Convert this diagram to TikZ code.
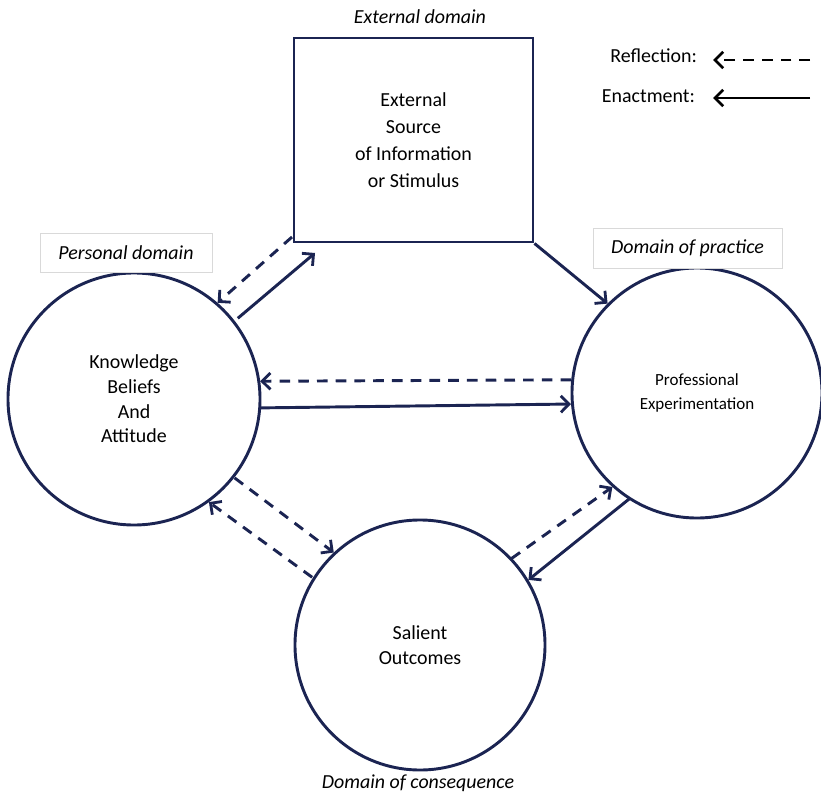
\documentclass[tikz,border=0pt]{standalone}
\usepackage{fontspec}
\setmainfont{Carlito}
\usetikzlibrary{arrows.meta}
\definecolor{navy}{HTML}{1B2452}
\tikzset{
  conn/.style={draw=navy, line width=2.5pt, -{Straight Barb[length=7pt,width=14pt,line width=2.4pt]}},
  refl/.style={conn, dash pattern=on 9pt off 7pt},
  bubble/.style={circle, draw=navy, line width=2.5pt, minimum size=7.5cm, inner sep=0pt, align=center, font=\fontsize{17}{21}\selectfont},
  srcbox/.style={draw=navy, line width=2.5pt, minimum width=7.17cm, minimum height=6.12cm, align=center, font=\fontsize{17}{23}\selectfont},
  tag/.style={draw=black!15, fill=white, font=\fontsize{17}{20}\selectfont\itshape, inner sep=0pt},
  plain/.style={font=\fontsize{17}{20}\selectfont},
}
\begin{document}
\begin{tikzpicture}[x=0.03cm, y=-0.03cm]
\useasboundingbox (0,0) rectangle (821,797);
% boxes
\node[srcbox] (R) at (413.5,140) {External\\Source\\of Information\\or Stimulus};
\node[bubble, minimum size=7.56cm] (L) at (134,399) {Knowledge\\Beliefs\\And\\Attitude};
\node[bubble] (P) at (697,393) {\fontsize{14.5}{19}\selectfont Professional\\\fontsize{14.5}{19}\selectfont Experimentation};
\node[bubble] (S) at (420,645) {Salient\\Outcomes};
% domain labels
\node[plain, font=\fontsize{17}{20}\selectfont\itshape] (ed) at (420,17) {External domain};
\node[tag, minimum width=5.16cm, minimum height=1.17cm] (pd) at (126,253) {Personal domain};
\node[tag, minimum width=5.67cm, minimum height=1.2cm] (dp) at (687.5,248) {Domain of practice};
\node[plain, font=\fontsize{17}{20}\selectfont\itshape] (dc) at (418,783) {Domain of consequence};
% legend
\node[plain, anchor=east] (lr) at (701,56) {Reflection:};
\node[plain, anchor=east] (le) at (699,96) {Enactment:};
\coordinate (lr1) at (810,60);
\coordinate (lr2) at (713,60);
\coordinate (le1) at (810,98);
\coordinate (le2) at (713,98);
\draw[refl, draw=black] (lr1) -- (lr2);
\draw[conn, draw=black] (le1) -- (le2);
% connectors
\coordinate (r1) at (292,237);
\coordinate (r2) at (315,253);
\draw[refl] (r1) -- (L.49);
\draw[conn] ([shift={(2,-4)}]L.37) -- (r2);
\draw[conn] (R.south east) -- (P.135);
\draw[refl] (P.174) -- (L.8.5);
\draw[conn] (L.-4) -- (P.185);
\draw[refl] ([shift={(3,-3)}]L.-40) -- (S.133);
\draw[refl] ([shift={(-3,3)}]S.146) -- (L.-54);
\draw[refl] ([shift={(2,3)}]S.45) -- (P.228);
\draw[conn] ([shift={(-2,-3)}]P.239) -- (S.31);
\end{tikzpicture}
\end{document}
